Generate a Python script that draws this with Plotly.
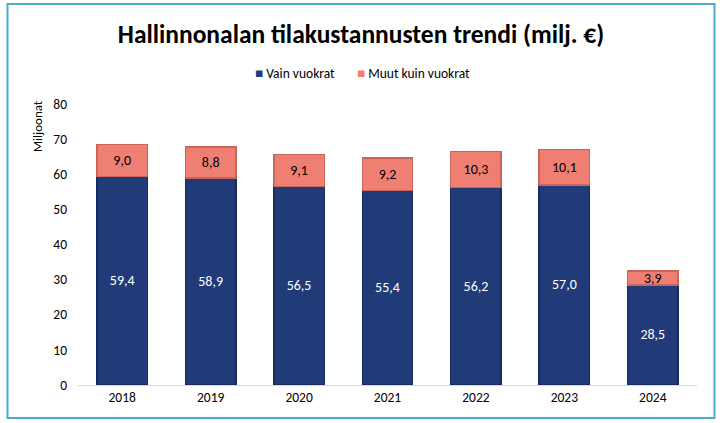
import plotly.graph_objects as go

years = ["2018", "2019", "2020", "2021", "2022", "2023", "2024"]
vain_vuokrat = [59.4, 58.9, 56.5, 55.4, 56.2, 57.0, 28.5]
muut = [9.0, 8.8, 9.1, 9.2, 10.3, 10.1, 3.9]
y_ticks = [0, 10, 20, 30, 40, 50, 60, 70, 80]
series_names = ["Vain vuokrat", "Muut kuin vuokrat"]
series_colors = ["#213B78", "#EF7F72"]

def fi(v):
    return f"{v:.1f}".replace(".", ",")

FONT = "Carlito, Lato, 'Open Sans', sans-serif"

fig = go.Figure()
fig.add_trace(go.Bar(
    x=years, y=vain_vuokrat, name=series_names[0],
    marker=dict(color=series_colors[0], line=dict(color="#172C5E", width=1.5)),
    text=[fi(v) for v in vain_vuokrat], textposition="inside",
    insidetextanchor="middle", constraintext="none",
    textfont=dict(color="white", size=14, family=FONT),
    showlegend=False,
))
fig.add_trace(go.Bar(
    x=years, y=muut, name=series_names[1],
    marker=dict(color=series_colors[1], line=dict(color="#C9655A", width=1.5)),
    text=[fi(v) for v in muut], textposition="inside",
    insidetextanchor="middle", constraintext="none",
    textfont=dict(color="black", size=14, family=FONT),
    showlegend=False,
))

W, H = 722, 423
ml, mr, mt, mb = 78, 25, 104, 38
pw, ph = W - ml - mr, H - mt - mb

def px(x):
    return (x - ml) / pw
def py(y):
    return (H - mb - y) / ph

legend_ann = [
    dict(text=f'<span style="color:{series_colors[0]}">■</span> {series_names[0]}',
         xref="paper", yref="paper", x=px(253), y=py(73), xanchor="left", yanchor="middle",
         showarrow=False, font=dict(size=13.5, family=FONT)),
    dict(text=f'<span style="color:{series_colors[1]}">■</span> {series_names[1]}',
         xref="paper", yref="paper", x=px(355), y=py(73), xanchor="left", yanchor="middle",
         showarrow=False, font=dict(size=13.5, family=FONT)),
]

fig.update_layout(
    width=W, height=H,
    barmode="stack", bargap=0.43,
    margin=dict(l=ml, r=mr, t=mt, b=mb),
    paper_bgcolor="white", plot_bgcolor="white",
    font=dict(family=FONT, size=13, color="black"),
    title=dict(text="<b>Hallinnonalan tilakustannusten trendi (milj. €)</b>",
               x=0.5, xanchor="center", y=1 - 34 / H, yanchor="middle",
               font=dict(size=25.5, family=FONT, color="black")),
    showlegend=False,
    xaxis=dict(showgrid=False, showline=True, linecolor="#D9D9D9", linewidth=1,
               ticks="", tickfont=dict(size=13.5)),
    yaxis=dict(range=[0, 80], tickvals=y_ticks, showgrid=False, zeroline=False,
               showline=False, ticks="", tickfont=dict(size=13.5), ticklabelstandoff=10),
    shapes=[dict(type="rect", xref="paper", yref="paper",
                 x0=px(7.5), x1=px(714.5), y0=py(418), y1=py(4),
                 line=dict(color="#4BACC6", width=2), fillcolor="rgba(0,0,0,0)", layer="below")],
    annotations=[dict(text="Miljoonat", textangle=-90, xref="paper", yref="paper",
                      x=px(37), y=py(126), xanchor="center", yanchor="middle",
                      showarrow=False, font=dict(size=13, family=FONT))] + legend_ann,
)

fig.write_html("out.html", config={"displayModeBar": False},
               post_script="document.body.style.margin='0';document.body.style.overflow='hidden';")
